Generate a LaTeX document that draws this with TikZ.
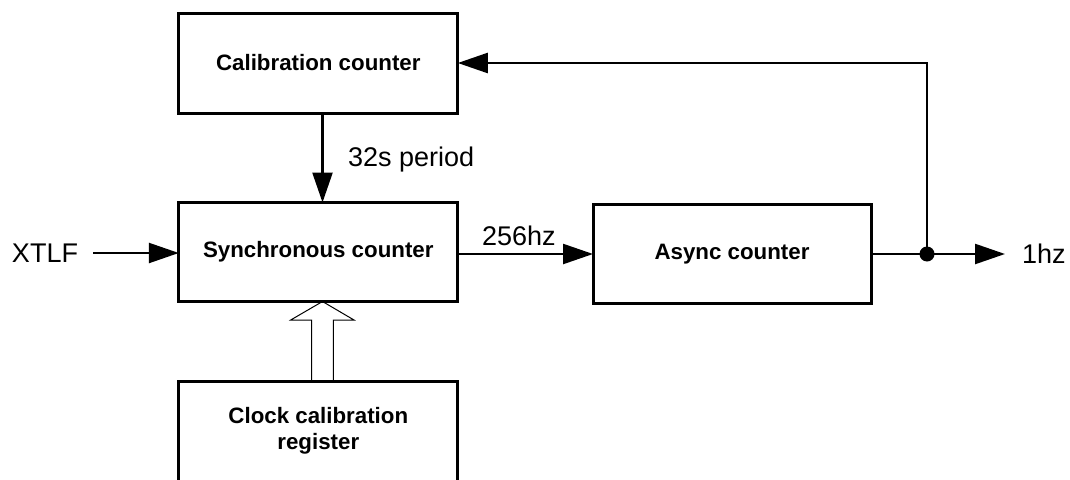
\documentclass[tikz,border=0pt]{standalone}
\usepackage{fontspec}
\setmainfont{Liberation Sans}
\usetikzlibrary{arrows.meta}
\begin{document}
\begin{tikzpicture}[x=1pt,y=-1pt,
  block/.style={draw=black, line width=3pt, fill=white, inner sep=0pt, outer sep=0pt,
    minimum width=279pt, minimum height=99pt, align=center,
    font=\fontsize{22.3}{26.3}\selectfont\bfseries},
  lbl/.style={inner sep=0pt, outer sep=0pt, anchor=base west,
    font=\fontsize{27}{32}\selectfont},
  conn/.style={line width=2.4pt, -{Triangle[length=30pt,width=20pt]}},
  wire/.style={line width=2.4pt},
  hollow/.style={draw=black, fill=white, line width=1pt, line join=miter}]
\useasboundingbox (0,0) rectangle (1070,479);
\clip (0,0) rectangle (1070,479);
\fill[white] (0,0) rectangle (1070,479);

% hollow arrow (drawn first, boxes overlay it)
\coordinate (vx) at (322.5,0);
\node[block] (sync) at (318.3,252) {Synchronous counter};
\node[block, minimum height=100pt] (clock) at (318.3,431) {Clock calibration\\register};
\draw[hollow] (sync.south -| vx) -- ++(31.5,18.5) -- ++(-20.7,0) -- (clock.north -| 333.3,0)
  -- (clock.north -| 311.7,0) -- ++(0,-61) -- ++(-21,0) -- cycle;
% redraw boxes on top
\node[block] at (sync) {Synchronous counter};
\node[block, minimum height=100pt] at (clock) {Clock calibration\\register};

\node[block, minimum height=100pt] (calib) at (318.3,63) {Calibration counter};
\node[block, minimum width=278pt] (async) at (732,254) {Async counter};

% labels
\node[lbl] (xtlf) at (12,262.7) {XTLF};
\node[lbl] (l32) at (348,166.7) {32s period};
\node[lbl] (l256) at (482,245.7) {256hz};
\node[lbl] (l1hz) at (1022,263.3) {1hz};

% connectors
\coordinate (xin) at (93,253);
\draw[conn] (xin) -- (xin -| sync.west);
\draw[conn] (calib.south -| vx) -- (sync.north -| vx);
\draw[conn] (sync.east |- async.east) -- (async.west);
\coordinate (dot) at (927,254);
\coordinate (out) at (1005,254);
\draw[wire] (async.east) -- (dot);
\draw[conn] (dot) -- (out);
\draw[conn] (dot) |- (calib.east);
\fill (dot) circle (7.5pt);
\end{tikzpicture}
\end{document}
